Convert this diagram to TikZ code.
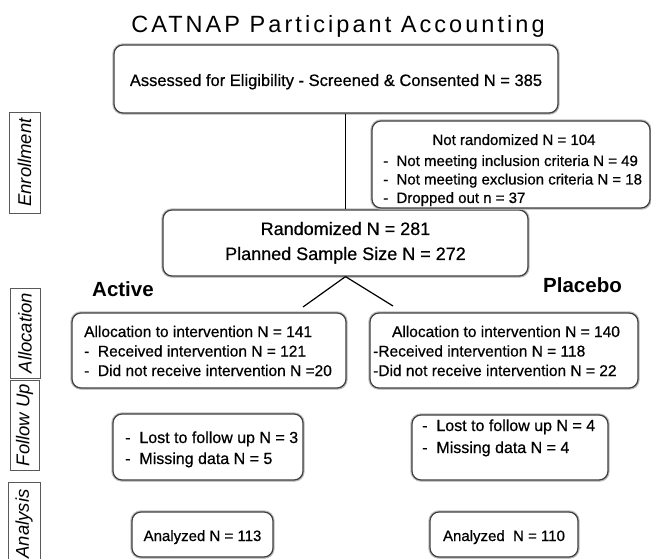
\documentclass[tikz,border=0pt]{standalone}
\usepackage{fontspec}
\setmainfont{Liberation Sans}
\newfontfamily\titlefont{Liberation Sans}[LetterSpace=13]
\newfontfamily\bodyfont{Liberation Sans}[FakeBold=0.6]
\usetikzlibrary{shadows}
\begin{document}
\begin{tikzpicture}[x=1bp,y=-1bp,
  box/.style={draw=black!75, line width=1.2bp, rounded corners=9bp, fill=white,
    preaction={draw=black!25, line width=3.4bp},
    drop shadow={shadow xshift=1.2bp, shadow yshift=-1.5bp, fill=black!30, opacity=0.6},
    inner sep=0pt},
  labbox/.style={draw=black!65, line width=0.8bp, inner sep=0pt,
    font=\fontsize{18.5bp}{22bp}\selectfont\itshape},
  ttitle/.style={inner sep=0pt, font=\fontsize{23.5bp}{28bp}\selectfont\titlefont},
  t15/.style={inner sep=0pt, font=\fontsize{15bp}{18bp}\selectfont\bodyfont},
  t155/.style={inner sep=0pt, font=\fontsize{15.5bp}{18bp}\selectfont\bodyfont},
  t16/.style={inner sep=0pt, font=\fontsize{16bp}{19bp}\selectfont\bodyfont},
  t165/.style={inner sep=0pt, font=\fontsize{16.5bp}{19bp}\selectfont\bodyfont},
  t18/.style={inner sep=0pt, font=\fontsize{18bp}{21bp}\selectfont\bodyfont},
  arm/.style={inner sep=0pt, font=\fontsize{20.5bp}{24bp}\selectfont\bfseries},
  conn/.style={draw=black, line width=1.2bp}
]
\useasboundingbox (0,0) rectangle (651,559);
\fill[white] (0,0) rectangle (651,559);

% title
\node[ttitle, anchor=base] (title) at (338,33) {CATNAP Participant Accounting};

% stage labels
\node[labbox, rotate=90, minimum width=101bp, minimum height=31bp] (lenr) at (24.5,162.5) {Enrollment};
\node[labbox, rotate=90, minimum width=90bp, minimum height=30bp] (lall) at (25,333) {Allocation};
\node[labbox, rotate=90, minimum width=90bp, minimum height=29bp] (lfol) at (24.5,425) {Follow Up};
\node[labbox, rotate=90, minimum width=84bp, minimum height=32bp] (lana) at (24,524) {Analysis};

% free ends of the allocation branches
\coordinate (lend) at (303,307);
\coordinate (rend) at (393,306);

% boxes
\node[box, minimum width=444bp, minimum height=68bp] (b1) at (336,79) {};
\node[box, minimum width=365bp, minimum height=66bp] (rand) at (345.5,243) {};
\draw[conn] (b1.south -| rand.north) -- (rand.north);
\draw[conn] (rand.south) -- (lend);
\draw[conn] (rand.south) -- (rend);
\node[box, minimum width=278bp, minimum height=87bp] (nr) at (511,164.5) {};
\node[box, minimum width=274bp, minimum height=75bp] (alA) at (209,350.5) {};
\node[box, minimum width=268bp, minimum height=75bp] (alP) at (504,350.5) {};
\node[box, minimum width=190bp, minimum height=66bp] (fuA) at (208,447) {};
\node[box, minimum width=196bp, minimum height=65bp] (fuP) at (510,447.5) {};
\node[box, minimum width=141bp, minimum height=45bp] (anA) at (202.5,534.5) {};
\node[box, minimum width=148bp, minimum height=45bp] (anP) at (504,534.5) {};

% texts
\node[t165, anchor=base] (b1t) at (336,86) {Assessed for Eligibility - Screened \& Consented N = 385};

\node[t15, anchor=base] (nr1) at (514,145) {Not randomized N = 104};
\node[t15, anchor=base west] (nr2) at (383,166) {-\ \ Not meeting inclusion criteria N = 49};
\node[t15, anchor=base west] (nr3) at (383,184.5) {-\ \ Not meeting exclusion criteria N = 18};
\node[t15, anchor=base west] (nr4) at (383,203) {-\ \ Dropped out n = 37};

\node[t18, anchor=base] (r1) at (345.5,235) {Randomized N = 281};
\node[t18, anchor=base] (r2) at (345.5,260) {Planned Sample Size N = 272};

\node[arm, anchor=base west] (act) at (92,296) {Active};
\node[arm, anchor=base west] (plc) at (543,292) {Placebo};

\node[t155, anchor=base west] (aa1) at (84,337) {Allocation to intervention N = 141};
\node[t155, anchor=base west] (aa2) at (84,356.5) {-\ \ Received intervention N = 121};
\node[t155, anchor=base west] (aa3) at (84,376) {-\ \ Did not receive intervention N =20};

\node[t155, anchor=base] (ap1) at (506,337) {Allocation to intervention N = 140};
\node[t155, anchor=base west] (ap2) at (373,356.5) {-Received intervention N = 118};
\node[t155, anchor=base west] (ap3) at (373,376) {-Did not receive intervention N = 22};

\node[t16, anchor=base west] (fa1) at (125,443) {-\ \ Lost to follow up N = 3};
\node[t16, anchor=base west] (fa2) at (125,464) {-\ \ Missing data N = 5};
\node[t16, anchor=base west] (fp1) at (422,431) {-\ \ Lost to follow up N = 4};
\node[t16, anchor=base west] (fp2) at (422,453) {-\ \ Missing data N = 4};

\node[t15, anchor=base] (na) at (202.5,541) {Analyzed N = 113};
\node[t15, anchor=base] (np) at (504,541) {Analyzed\ \ N = 110};
\end{tikzpicture}
\end{document}
